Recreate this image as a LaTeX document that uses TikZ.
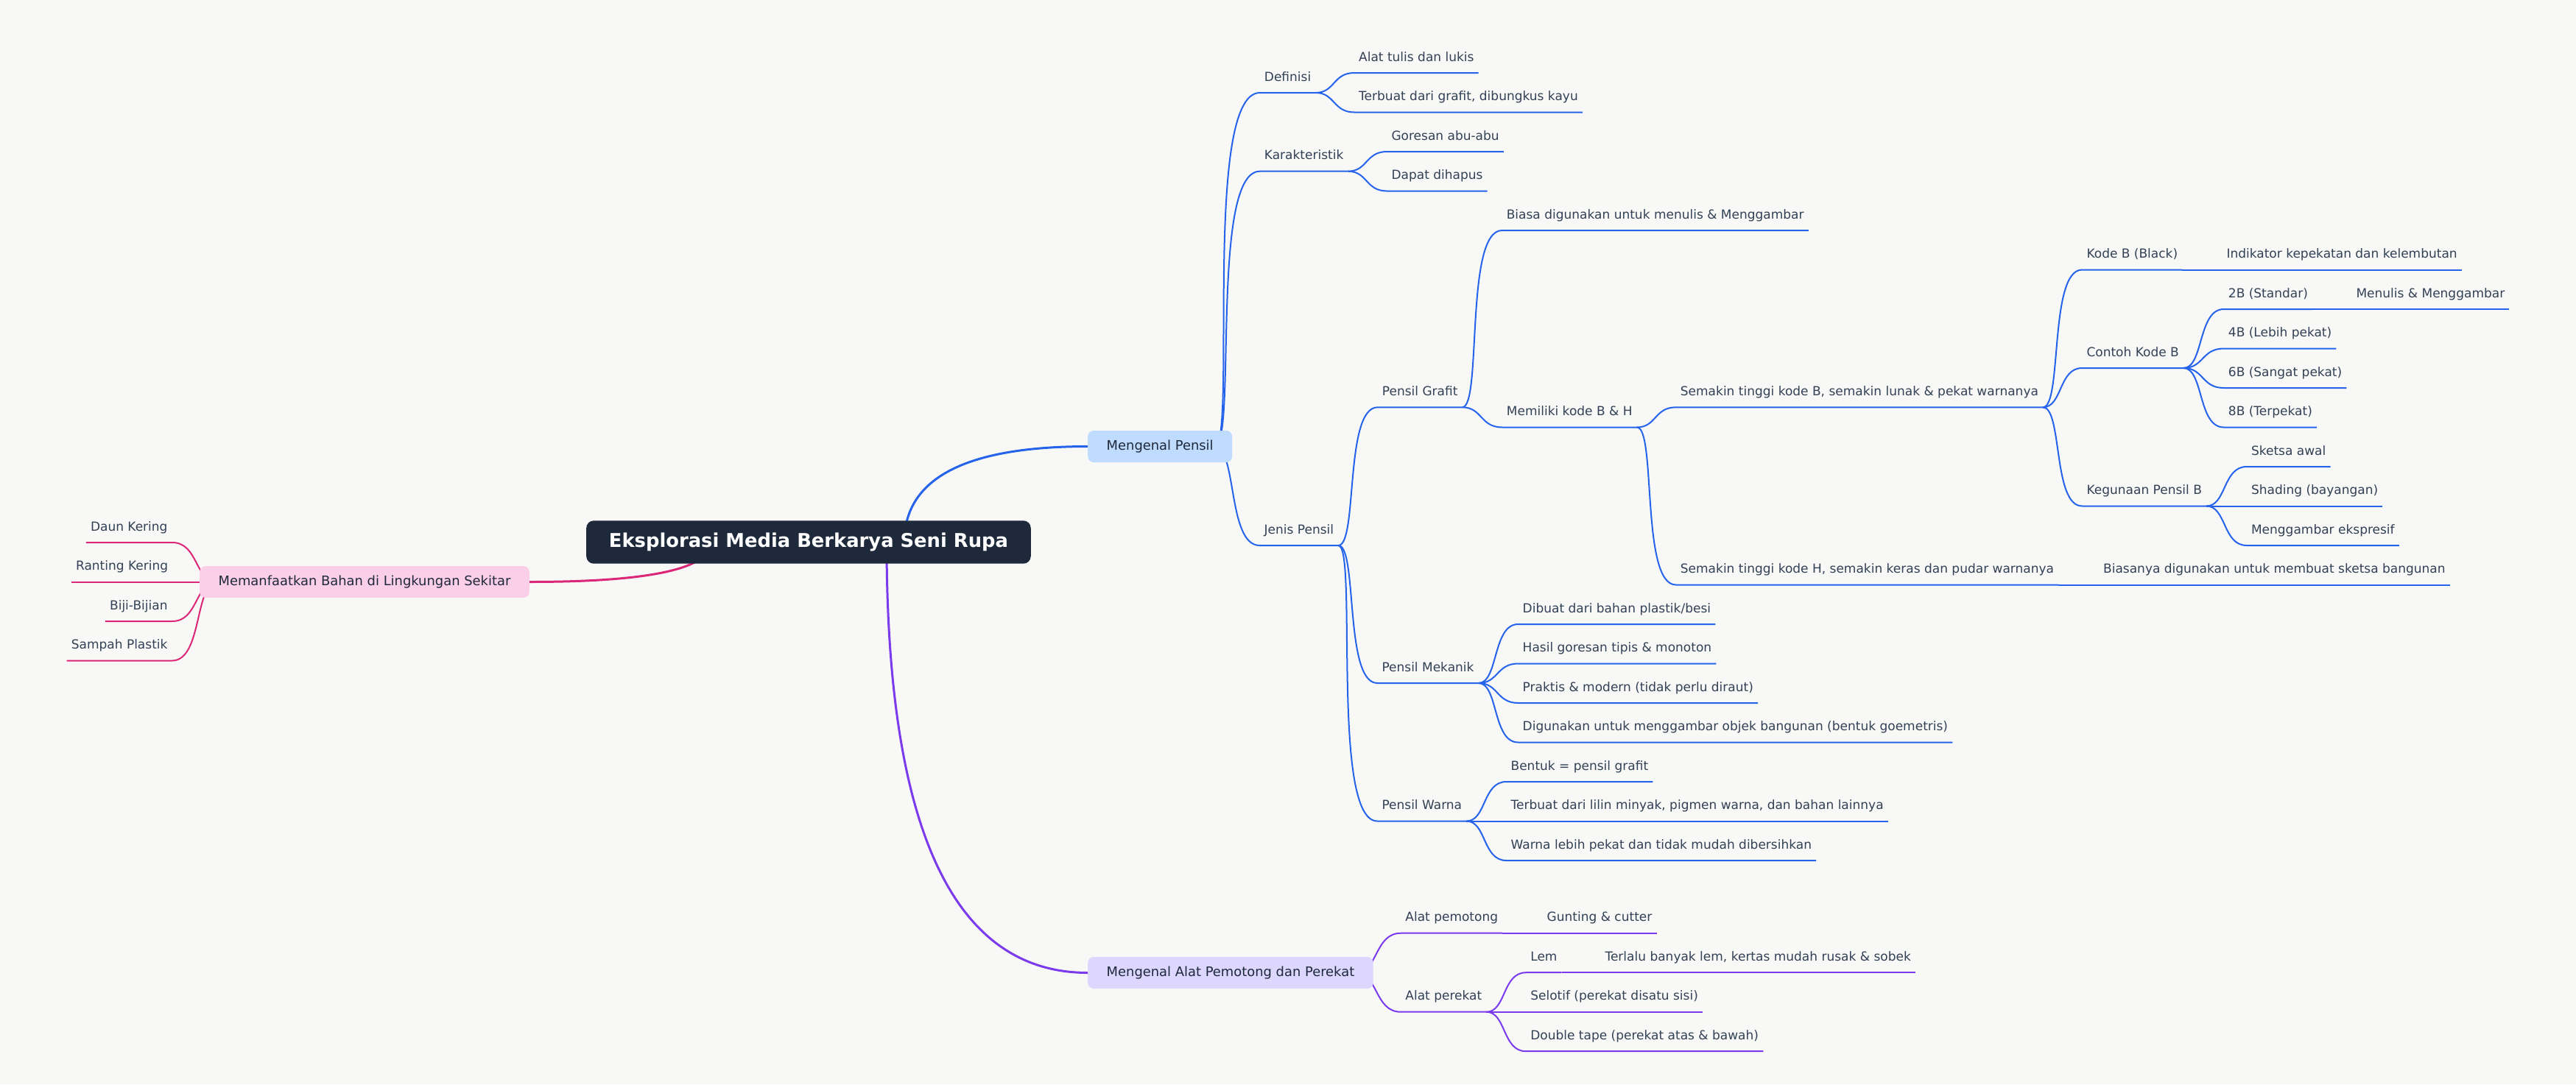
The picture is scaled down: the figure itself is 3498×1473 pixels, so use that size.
\documentclass[tikz,border=0pt]{standalone}
\usepackage{fontspec}
\setmainfont{DejaVu Sans}
\usetikzlibrary{calc}
\definecolor{bg}{HTML}{F8F8F7}
\definecolor{rootc}{HTML}{1E293B}
\definecolor{txt}{HTML}{334155}
\definecolor{cblue}{HTML}{2563EB}
\definecolor{cviol}{HTML}{7C3AED}
\definecolor{cpink}{HTML}{DB2777}
\definecolor{fblue}{HTML}{BFDBFE}
\definecolor{fviol}{HTML}{DDD6FE}
\definecolor{fpink}{HTML}{FBCFE8}
\pgfdeclarelayer{bgl}
\pgfdeclarelayer{edges}
\pgfsetlayers{bgl,edges,main}
\tikzset{
 topic/.style={anchor=south west, inner xsep=6pt, inner ysep=11pt, text height=13pt, text depth=4.7pt, font=\fontsize{17}{20}\selectfont, text=txt},
 ltopic/.style={topic, anchor=south east},
 lvlone/.style={rounded corners=8pt, inner xsep=25.5pt, inner ysep=0pt, minimum height=43pt, text height=13.5pt, text depth=4.5pt, font=\fontsize{17.9}{21}\selectfont, text=rootc},
 rootbox/.style={fill=rootc, rounded corners=10pt, inner xsep=30.7pt, inner ysep=0pt, minimum height=58.4pt, text height=19pt, text depth=6pt, font=\fontsize{25.8}{30}\selectfont\bfseries, text=white, anchor=west},
 mainln/.style={line width=3pt},
 subln/.style={line width=2pt},
}
\newcommand\mainbr[3]{\draw[mainln,#1] let \p1=(#2), \p2=(#3) in (\p1) .. controls (\x1,{\y1+2/3*(\y2-\y1)}) and ({\x2+2/3*(\x1-\x2)},\y2) .. (\p2);}
\newcommand\brR[3]{\draw[subln,#1] let \p1=(#2), \p2=(#3.south west) in (\p1) .. controls ({0.5*\x1+0.5*\x2},\y1) and ({0.5*\x1+0.5*\x2-abs(\y2-\y1)/10},\y2) .. (\p2) -- (#3.south east);}
\newcommand\brL[3]{\draw[subln,#1] let \p1=(#2), \p2=(#3.south east) in (\p1) .. controls ({0.5*\x1+0.5*\x2},\y1) and ({0.5*\x1+0.5*\x2+abs(\y2-\y1)/10},\y2) .. (\p2) -- (#3.south west);}
\begin{document}
\begin{tikzpicture}[x=1pt,y=-1pt]
\begin{pgfonlayer}{bgl}
\fill[bg] (0,0) rectangle (3498,1473);
\end{pgfonlayer}
\useasboundingbox (0,0) rectangle (3498,1473);

% root and first level
\node[rootbox] (root) at (796,736.5) {Eksplorasi Media Berkarya Seni Rupa};
\node[lvlone, fill=fblue, anchor=west] (mp) at (1477,606.5) {Mengenal Pensil};
\node[lvlone, fill=fviol, anchor=west] (ma) at (1477,1321.5) {Mengenal Alat Pemotong dan Perekat};
\node[lvlone, fill=fpink, anchor=east] (pk) at (719,790.5) {Memanfaatkan Bahan di Lingkungan Sekitar};

\coordinate (rmp) at ($(root.center)+(130,0)$);
\coordinate (rma) at ($(root.center)+(106,0)$);
\coordinate (rpk) at ($(root.center)+(-132.5,0)$);
\coordinate (mps) at ($(mp.east)+(-24,0)$);
\coordinate (mas) at ($(ma.east)+(-24,0)$);
\coordinate (pks) at ($(pk.west)+(24,0)$);

% Mengenal Pensil
\node[topic] (def) at (1710.7,126) {Definisi};
\node[topic] (def1) at (1839,99) {Alat tulis dan lukis};
\node[topic] (def2) at (1839,152.5) {Terbuat dari grafit, dibungkus kayu};
\node[topic] (kar) at (1710.7,232.7) {Karakteristik};
\node[topic] (kar1) at (1883.3,206) {Goresan abu-abu};
\node[topic] (kar2) at (1883.3,259.5) {Dapat dihapus};
\node[topic] (jen) at (1710.5,741) {Jenis Pensil};
\node[topic] (graf) at (1870.7,553.3) {Pensil Grafit};
\node[topic] (g1) at (2039.6,313) {Biasa digunakan untuk menulis \& Menggambar};
\node[topic] (g2) at (2039.7,580.5) {Memiliki kode B \& H};
\node[topic] (sb) at (2275.7,553.3) {Semakin tinggi kode B, semakin lunak \& pekat warnanya};
\node[topic] (kb) at (2827.3,366.5) {Kode B (Black)};
\node[topic] (kb1) at (3017.3,366.5) {Indikator kepekatan dan kelembutan};
\node[topic] (ck) at (2827.3,500) {Contoh Kode B};
\node[topic] (ck1) at (3019.7,420) {2B (Standar)};
\node[topic] (ck1a) at (3193.3,420) {Menulis \& Menggambar};
\node[topic] (ck2) at (3019.7,473.5) {4B (Lebih pekat)};
\node[topic] (ck3) at (3019.7,527) {6B (Sangat pekat)};
\node[topic] (ck4) at (3019.7,580.5) {8B (Terpekat)};
\node[topic] (kg) at (2827.3,687.5) {Kegunaan Pensil B};
\node[topic] (kg1) at (3050.8,634) {Sketsa awal};
\node[topic] (kg2) at (3050.8,687.5) {Shading (bayangan)};
\node[topic] (kg3) at (3050.8,741) {Menggambar ekspresif};
\node[topic] (sh) at (2275.7,794.5) {Semakin tinggi kode H, semakin keras dan pudar warnanya};
\node[topic] (sh1) at (2849.9,794.5) {Biasanya digunakan untuk membuat sketsa bangunan};
\node[topic] (mek) at (1870.3,928) {Pensil Mekanik};
\node[topic] (m1) at (2061.5,848) {Dibuat dari bahan plastik/besi};
\node[topic] (m2) at (2061.5,901.5) {Hasil goresan tipis \& monoton};
\node[topic] (m3) at (2061.5,955) {Praktis \& modern (tidak perlu diraut)};
\node[topic] (m4) at (2061.5,1008.5) {Digunakan untuk menggambar objek bangunan (bentuk goemetris)};
\node[topic] (war) at (1870.3,1115.5) {Pensil Warna};
\node[topic] (w1) at (2045.4,1062) {Bentuk = pensil grafit};
\node[topic] (w2) at (2045.4,1115.5) {Terbuat dari lilin minyak, pigmen warna, dan bahan lainnya};
\node[topic] (w3) at (2045.4,1169) {Warna lebih pekat dan tidak mudah dibersihkan};

% Mengenal Alat
\node[topic] (ap) at (1902.2,1267.7) {Alat pemotong};
\node[topic] (ap1) at (2094.5,1267.7) {Gunting \& cutter};
\node[topic] (apr) at (1902.2,1374.7) {Alat perekat};
\node[topic] (l1) at (2072.1,1321.2) {Lem};
\node[topic] (l1a) at (2173.3,1321.2) {Terlalu banyak lem, kertas mudah rusak \& sobek};
\node[topic] (l2) at (2072.1,1374.7) {Selotif (perekat disatu sisi)};
\node[topic] (l3) at (2072.1,1428.2) {Double tape (perekat atas \& bawah)};

% Left side
\node[ltopic] (lk1) at (233.7,737) {Daun Kering};
\node[ltopic] (lk2) at (234.3,790.5) {Ranting Kering};
\node[ltopic] (lk3) at (233.7,844) {Biji-Bijian};
\node[ltopic] (lk4) at (233.7,897.5) {Sampah Plastik};

\begin{pgfonlayer}{edges}
\mainbr{cblue}{rmp}{mp.west}
\mainbr{cviol}{rma}{ma.west}
\mainbr{cpink}{rpk}{pk.east}

\brR{cblue}{mps}{def}
\brR{cblue}{mps}{kar}
\brR{cblue}{mps}{jen}
\brR{cblue}{def.south east}{def1}
\brR{cblue}{def.south east}{def2}
\brR{cblue}{kar.south east}{kar1}
\brR{cblue}{kar.south east}{kar2}
\brR{cblue}{jen.south east}{graf}
\brR{cblue}{jen.south east}{mek}
\brR{cblue}{jen.south east}{war}
\brR{cblue}{graf.south east}{g1}
\brR{cblue}{graf.south east}{g2}
\brR{cblue}{g2.south east}{sb}
\brR{cblue}{g2.south east}{sh}
\brR{cblue}{sb.south east}{kb}
\brR{cblue}{sb.south east}{ck}
\brR{cblue}{sb.south east}{kg}
\brR{cblue}{kb.south east}{kb1}
\brR{cblue}{ck.south east}{ck1}
\brR{cblue}{ck.south east}{ck2}
\brR{cblue}{ck.south east}{ck3}
\brR{cblue}{ck.south east}{ck4}
\brR{cblue}{ck1.south east}{ck1a}
\brR{cblue}{kg.south east}{kg1}
\brR{cblue}{kg.south east}{kg2}
\brR{cblue}{kg.south east}{kg3}
\brR{cblue}{sh.south east}{sh1}
\brR{cblue}{mek.south east}{m1}
\brR{cblue}{mek.south east}{m2}
\brR{cblue}{mek.south east}{m3}
\brR{cblue}{mek.south east}{m4}
\brR{cblue}{war.south east}{w1}
\brR{cblue}{war.south east}{w2}
\brR{cblue}{war.south east}{w3}

\brR{cviol}{mas}{ap}
\brR{cviol}{mas}{apr}
\brR{cviol}{ap.south east}{ap1}
\brR{cviol}{apr.south east}{l1}
\brR{cviol}{apr.south east}{l2}
\brR{cviol}{apr.south east}{l3}
\brR{cviol}{l1.south east}{l1a}

\brL{cpink}{pks}{lk1}
\brL{cpink}{pks}{lk2}
\brL{cpink}{pks}{lk3}
\brL{cpink}{pks}{lk4}
\end{pgfonlayer}
\end{tikzpicture}
\end{document}
